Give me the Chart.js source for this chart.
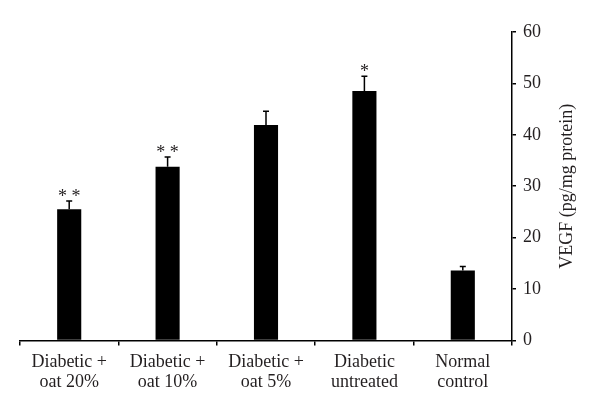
<!DOCTYPE html>
<html>
<head>
<meta charset="utf-8">
<script src="https://cdn.jsdelivr.net/npm/chart.js@4/dist/chart.umd.min.js"></script>
<style>
  html, body { margin: 0; padding: 0; background: #fff; }
  #wrap { width: 600px; height: 416px; }
</style>
</head>
<body>
<div id="wrap"><canvas id="chartVegf"></canvas></div>
<script>
const groupLabels = [
  ['Diabetic +', 'oat 20%'],
  ['Diabetic +', 'oat 10%'],
  ['Diabetic +', 'oat 5%'],
  ['Diabetic', 'untreated'],
  ['Normal', 'control'],
];
const vegfMeans = [25.5, 33.8, 41.9, 48.5, 13.6];
const vegfErrors = [1.6, 1.9, 2.7, 2.9, 0.8];
const sigMarks = ['* *', '* *', '', '*', ''];
const yTitle = 'VEGF (pg/mg protein)';

const fontFamily = '"Liberation Serif", "DejaVu Serif", serif';
const textColor = '#231f20';

// error bars (upper only) + significance stars
const errorBarPlugin = {
  id: 'errorBars',
  afterDatasetsDraw(chart) {
    const ctx = chart.ctx;
    const yScale = chart.scales.y;
    const bars = chart.getDatasetMeta(0).data;
    ctx.save();
    ctx.strokeStyle = '#000';
    ctx.lineWidth = 1.5;
    bars.forEach((bar, i) => {
      let yTop = yScale.getPixelForValue(vegfMeans[i] + vegfErrors[i]);
      ctx.beginPath();
      ctx.moveTo(bar.x, bar.y);
      ctx.lineTo(bar.x, yTop);
      ctx.moveTo(bar.x - 3, yTop);
      ctx.lineTo(bar.x + 3, yTop);
      ctx.stroke();
      if (sigMarks[i]) {
        ctx.fillStyle = textColor;
        ctx.font = '18px ' + fontFamily;
        ctx.textAlign = 'center';
        ctx.textBaseline = 'alphabetic';
        ctx.fillText(sigMarks[i], bar.x, yTop + 1);
      }
    });
    ctx.restore();
  }
};

// right side title, reading bottom to top
const rightTitlePlugin = {
  id: 'rightTitle',
  afterDraw(chart) {
    const ctx = chart.ctx;
    const area = chart.chartArea;
    ctx.save();
    ctx.translate(567, (area.top + area.bottom) / 2);
    ctx.rotate(-Math.PI / 2);
    ctx.fillStyle = textColor;
    ctx.font = '18px ' + fontFamily;
    ctx.textAlign = 'center';
    ctx.textBaseline = 'middle';
    ctx.fillText(yTitle, 0, 0);
    ctx.restore();
  }
};

const chartVegf = new Chart(document.getElementById('chartVegf'), {
  type: 'bar',
  data: {
    labels: groupLabels,
    datasets: [{
      data: vegfMeans,
      backgroundColor: '#000',
      borderWidth: 0,
      categoryPercentage: 1,
      barPercentage: 0.245,
    }]
  },
  options: {
    responsive: true,
    maintainAspectRatio: false,
    animation: false,
    layout: {
      padding: { left: 20, right: 52, top: 32, bottom: 17 }
    },
    plugins: {
      legend: { display: false },
      tooltip: { enabled: false },
    },
    scales: {
      x: {
        grid: {
          drawOnChartArea: false,
          drawTicks: true,
          tickLength: 5,
          color: '#000',
          lineWidth: 1.5,
        },
        border: { color: '#000', width: 1.5 },
        ticks: {
          color: textColor,
          font: { family: fontFamily, size: 18, lineHeight: 1.1 },
          padding: 7,
          maxRotation: 0,
          autoSkip: false,
        },
      },
      y: {
        position: 'right',
        min: 0,
        max: 60,
        grid: {
          drawOnChartArea: false,
          drawTicks: true,
          tickLength: 4,
          color: '#000',
          lineWidth: 1.5,
        },
        border: { color: '#000', width: 1.5 },
        ticks: {
          stepSize: 10,
          color: textColor,
          font: { family: fontFamily, size: 18 },
          padding: 7,
        },
      },
    },
  },
  plugins: [errorBarPlugin, rightTitlePlugin],
});
</script>
</body>
</html>
